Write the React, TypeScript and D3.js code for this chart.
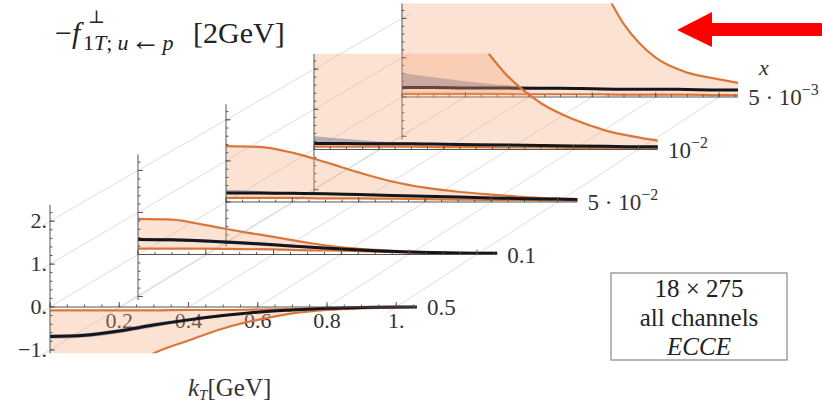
import React from "react";
import * as d3 from "d3";

// ---- data ----
const kT = [0, 0.1, 0.2, 0.3, 0.4, 0.5, 0.6, 0.7, 0.8, 0.9, 1.0, 1.06];
const panelBases = ["0.5", "0.1", "5 · 10", "10", "5 · 10"];
const panelExps = ["", "", "−2", "−2", "−3"];
const kTTicks = [0.2, 0.4, 0.6, 0.8, 1.0];
const kTTickLabels = ["0.2", "0.4", "0.6", "0.8", "1."];
const yTicks = [-1, 0, 1, 2];
const yTickLabels = ["−1.", "0.", "1.", "2."];
const legendLines = ["18 × 275", "all channels", "ECCE"];

const centralValues = [
  [-0.69, -0.66, -0.56, -0.42, -0.3, -0.2, -0.12, -0.07, -0.03, -0.01, 0, 0],
  [0.36, 0.35, 0.32, 0.28, 0.23, 0.18, 0.13, 0.09, 0.06, 0.04, 0.03, 0.03],
  [0.22, 0.22, 0.21, 0.2, 0.18, 0.16, 0.14, 0.12, 0.1, 0.08, 0.07, 0.06],
  [0.15, 0.15, 0.14, 0.14, 0.13, 0.12, 0.11, 0.1, 0.09, 0.08, 0.07, 0.07],
  [0.24, 0.24, 0.23, 0.23, 0.22, 0.22, 0.21, 0.2, 0.2, 0.19, 0.18, 0.18],
];
const blueUpper = [
  [-0.64, -0.61, -0.51, -0.37, -0.26, -0.17, -0.1, -0.05, -0.02, 0, 0.01, 0.01],
  [0.4, 0.39, 0.36, 0.32, 0.27, 0.21, 0.16, 0.11, 0.08, 0.05, 0.04, 0.04],
  [0.3, 0.27, 0.24, 0.22, 0.2, 0.18, 0.16, 0.13, 0.11, 0.09, 0.08, 0.07],
  [0.33, 0.26, 0.2, 0.17, 0.15, 0.14, 0.12, 0.11, 0.1, 0.09, 0.08, 0.08],
  [0.62, 0.5, 0.4, 0.32, 0.27, 0.24, 0.22, 0.21, 0.21, 0.2, 0.19, 0.19],
];
const blueLower = [
  [-0.74, -0.71, -0.61, -0.47, -0.34, -0.23, -0.14, -0.09, -0.04, -0.02, -0.01, -0.01],
  [0.32, 0.31, 0.28, 0.24, 0.19, 0.15, 0.1, 0.07, 0.04, 0.03, 0.02, 0.02],
  [0.19, 0.19, 0.18, 0.17, 0.16, 0.14, 0.12, 0.11, 0.09, 0.07, 0.06, 0.05],
  [0.12, 0.12, 0.12, 0.12, 0.11, 0.1, 0.1, 0.09, 0.08, 0.07, 0.06, 0.06],
  [0.21, 0.21, 0.21, 0.21, 0.2, 0.2, 0.19, 0.19, 0.18, 0.18, 0.17, 0.17],
];
const upperValues = [
  [-0.08, -0.08, -0.08, -0.08, -0.07, -0.07, -0.06, -0.05, -0.03, -0.02, -0.01, 0],
  [0.85, 0.83, 0.7, 0.55, 0.42, 0.28, 0.17, 0.11, 0.07, 0.05, 0.04, 0.04],
  [1.36, 1.34, 1.2, 0.97, 0.72, 0.5, 0.35, 0.25, 0.18, 0.12, 0.08, 0.07],
  [5, 5, 4.8, 4.2, 3.5, 2.75, 1.8, 1.15, 0.75, 0.47, 0.3, 0.22],
  [8, 8, 7.5, 6.5, 5.5, 4.5, 3.3, 1.85, 1.0, 0.62, 0.45, 0.36],
];
const lowerValues = [
  [-2.2, -2.0, -1.6, -1.08, -0.78, -0.5, -0.3, -0.15, -0.07, -0.03, -0.01, 0],
  [0.14, 0.14, 0.14, 0.13, 0.12, 0.1, 0.09, 0.07, 0.05, 0.03, 0.02, 0.02],
  [0.1, 0.1, 0.1, 0.09, 0.09, 0.08, 0.07, 0.06, 0.05, 0.05, 0.04, 0.04],
  [0.07, 0.07, 0.07, 0.07, 0.06, 0.06, 0.05, 0.05, 0.04, 0.04, 0.04, 0.03],
  [0.08, 0.08, 0.08, 0.08, 0.07, 0.07, 0.07, 0.06, 0.06, 0.06, 0.05, 0.05],
];

// ---- layout ----
const W = 822;
const H = 408;
const X0 = 50;
const Y0 = 307;
const DX = 88;
const DY = 52.5;
const SHRINK = 0.021;
const WIDTH0 = 367;
const UNIT0 = 42.9;
const KMAX = 1.06;
const VMIN = -1.08;
const VMAX = 2.38;
const FONT = "Liberation Serif, DejaVu Serif, Times New Roman, serif";

const ORANGE = "#d9773a";
const PEACH = "#f6a77a";

function scalesFor(t: number) {
  const s = 1 - SHRINK * t;
  const ox = X0 + DX * t;
  const oy = Y0 - DY * t;
  const x = d3.scaleLinear().domain([0, KMAX]).range([ox, ox + WIDTH0 * s]);
  const y = d3
    .scaleLinear()
    .domain([VMIN, VMAX])
    .range([oy - VMIN * UNIT0 * s, oy - VMAX * UNIT0 * s]);
  return { x, y };
}

const txt = { fontFamily: FONT };

export default function App() {
  const panels = [0, 1, 2, 3, 4];
  const order = [4, 3, 2, 1, 0];

  const gridStart = scalesFor(-0.12);
  const gridEnd = scalesFor(4.1);

  const minorK = d3.range(0, KMAX + 1e-9, 0.05);
  const majorK = d3.range(0, KMAX + 1e-9, 0.2);
  const minorY = d3.range(-1, VMAX, 0.2);

  return (
    <svg
      width={W}
      height={H}
      viewBox={`0 0 ${W} ${H}`}
      style={{ position: "absolute", left: 0, top: 0, background: "#fff", fontFamily: FONT }}
    >
      <defs>
        {panels.map((i) => {
          const { x, y } = scalesFor(i);
          return (
            <clipPath id={`clip${i}`} key={i}>
              <rect
                x={x(0)}
                y={y(VMAX)}
                width={x(KMAX) - x(0)}
                height={y(VMIN) - y(VMAX)}
              />
            </clipPath>
          );
        })}
      </defs>

      {/* diagonal guide lines */}
      <g stroke="#cfcfcf" strokeWidth={0.7} fill="none">
        {kTTicks.map((k) => (
          <line
            key={`gk${k}`}
            x1={gridStart.x(k)}
            y1={gridStart.y(0)}
            x2={gridEnd.x(k)}
            y2={gridEnd.y(0)}
          />
        ))}
        {yTicks.map((v) => (
          <line
            key={`gy${v}`}
            x1={gridStart.x(0)}
            y1={gridStart.y(v)}
            x2={gridEnd.x(0)}
            y2={gridEnd.y(v)}
          />
        ))}
      </g>

      {order.map((i) => {
        const { x, y } = scalesFor(i);
        const rows = kT.map((k, j) => ({
          k,
          c: centralValues[i][j],
          bu: blueUpper[i][j],
          bl: blueLower[i][j],
          u: upperValues[i][j],
          l: lowerValues[i][j],
        }));
        const curve = d3.curveMonotoneX;
        const band = d3
          .area<any>()
          .x((d) => x(d.k))
          .y0((d) => y(d.l))
          .y1((d) => y(d.u))
          .curve(curve);
        const blue = d3
          .area<any>()
          .x((d) => x(d.k))
          .y0((d) => y(d.bl))
          .y1((d) => y(d.bu))
          .curve(curve);
        const lineU = d3.line<any>().x((d) => x(d.k)).y((d) => y(d.u)).curve(curve);
        const lineL = d3.line<any>().x((d) => x(d.k)).y((d) => y(d.l)).curve(curve);
        const lineC = d3.line<any>().x((d) => x(d.k)).y((d) => y(d.c)).curve(curve);
        const s = 1 - SHRINK * i;

        return (
          <g key={`p${i}`}>
            {i === 0 &&
              kTTicks.map((k, j) => (
                <text
                  key={`kl${k}`}
                  x={x(k)}
                  y={y(0) + 21}
                  fontSize={22}
                  textAnchor="middle"
                  fill="#333"
                  style={txt}
                >
                  {kTTickLabels[j]}
                </text>
              ))}
            <g clipPath={`url(#clip${i})`}>
              <path d={band(rows) || ""} fill={PEACH} fillOpacity={0.33} />
              <path d={blue(rows) || ""} fill="#4a5a8a" fillOpacity={0.4} />
              <path d={lineL(rows) || ""} fill="none" stroke={ORANGE} strokeWidth={2.2} />
              <path d={lineU(rows) || ""} fill="none" stroke={ORANGE} strokeWidth={2.2} />
              <path d={lineC(rows) || ""} fill="none" stroke="#15151c" strokeWidth={3} />
            </g>
            {/* axes */}
            <g stroke="#555" strokeWidth={1} fill="none">
              <line x1={x(0)} y1={y(VMIN)} x2={x(0)} y2={y(VMAX)} />
              <line x1={x(0)} y1={y(0)} x2={x(KMAX)} y2={y(0)} />
              {minorK.map((k) => (
                <line
                  key={`mk${k}`}
                  x1={x(k)}
                  x2={x(k)}
                  y1={y(0)}
                  y2={y(0) - 2.5 * s}
                />
              ))}
              {majorK.map((k) => (
                <line
                  key={`Mk${k}`}
                  x1={x(k)}
                  x2={x(k)}
                  y1={y(0)}
                  y2={y(0) - 5 * s}
                />
              ))}
              {minorY.map((v) => (
                <line
                  key={`my${v}`}
                  x1={x(0)}
                  x2={x(0) + 2.5 * s}
                  y1={y(v)}
                  y2={y(v)}
                />
              ))}
              {yTicks.map((v) => (
                <line
                  key={`My${v}`}
                  x1={x(0)}
                  x2={x(0) + 5 * s}
                  y1={y(v)}
                  y2={y(v)}
                />
              ))}
            </g>
            {i === 0 &&
              yTicks.map((v, j) => (
                <text
                  key={`yl${v}`}
                  x={x(0) - 3}
                  y={y(v) + 7}
                  fontSize={22}
                  textAnchor="end"
                  fill="#333"
                  style={txt}
                >
                  {yTickLabels[j]}
                </text>
              ))}
            <text x={x(KMAX) + 10} y={y(0) + 8} fontSize={23} fill="#333" style={txt}>
              {panelBases[i]}
              {panelExps[i] && (
                <tspan dy={-10} fontSize={16}>
                  {panelExps[i]}
                </tspan>
              )}
            </text>
          </g>
        );
      })}

      {/* x label for depth axis */}
      <text x={759} y={75} fontSize={22} fontStyle="italic" fill="#333" style={txt}>
        x
      </text>

      {/* title */}
      <text x={55} y={43} fontSize={30} fill="#222" style={txt}>
        −<tspan fontStyle="italic">f</tspan>
      </text>
      <text x={88} y={23} fontSize={18} fill="#222" style={txt}>
        ⊥
      </text>
      <text x={83} y={50} fontSize={22} fill="#222" style={txt}>
        1<tspan fontStyle="italic">T</tspan>;
        <tspan fontStyle="italic" dx={5}>u</tspan>
        <tspan dx={2} fontSize={30}>←</tspan>
        <tspan fontStyle="italic" dx={2}>p</tspan>
      </text>
      <text x={193} y={43} fontSize={30} fill="#222" style={txt}>
        [2GeV]
      </text>

      {/* kT axis label */}
      <text x={188} y={396} fontSize={25} fill="#333" style={txt}>
        <tspan fontStyle="italic">k</tspan>
        <tspan fontSize={15} dy={4} fontStyle="italic">
          T
        </tspan>
        <tspan dy={-4}>[GeV]</tspan>
      </text>

      {/* legend box */}
      <rect x={611} y={273} width={176} height={87} fill="#fff" stroke="#888" strokeWidth={1.2} />
      {legendLines.map((t, j) => (
        <text
          key={t}
          x={699}
          y={297 + j * 29}
          fontSize={25}
          textAnchor="middle"
          fontStyle={j === 2 ? "italic" : "normal"}
          fill="#222"
          style={txt}
        >
          {t}
        </text>
      ))}

      {/* red arrow */}
      <polygon
        points="677,30 712,12 712,23 822,23 822,36 712,36 712,47"
        fill="#ff0000"
      />
    </svg>
  );
}
